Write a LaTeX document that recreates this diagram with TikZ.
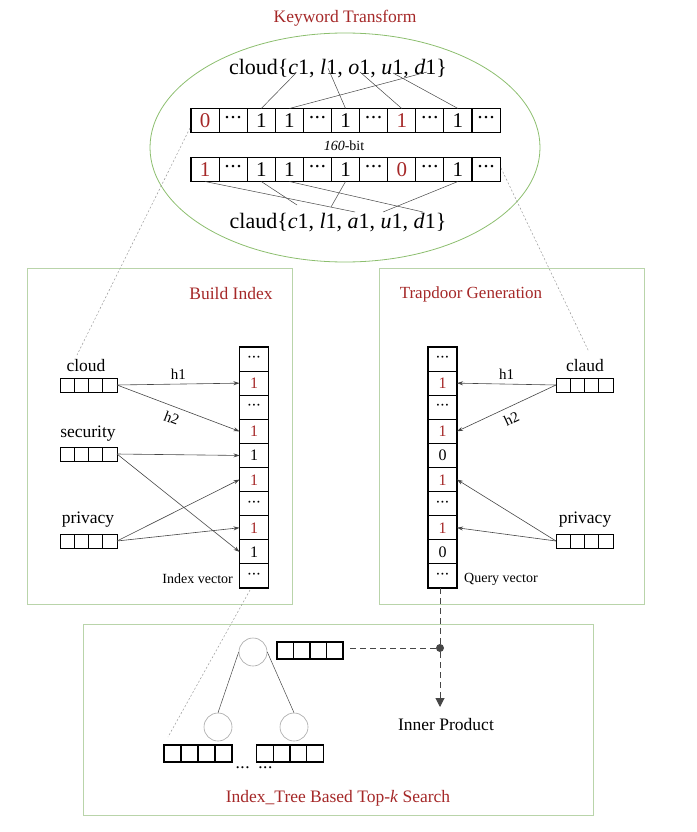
\documentclass[tikz,border=0pt]{standalone}
\usepackage{fontspec}
\setmainfont{Liberation Serif}
\usetikzlibrary{arrows.meta,calc,shapes.geometric}
\definecolor{tred}{RGB}{165,40,40}
\definecolor{egreen}{RGB}{140,190,110}
\definecolor{bgreen}{RGB}{185,212,170}
\definecolor{tgray}{RGB}{70,70,70}
\newcommand{\R}[1]{\textcolor{tred}{#1}}
\newcommand{\Dt}{\raisebox{0.12em}{\kern-0.05em\textperiodcentered\kern-0.05em\textperiodcentered\kern-0.05em\textperiodcentered\kern-0.05em}}
\begin{document}
\begin{tikzpicture}[x=1pt,y=-1pt,
  bitcell/.style={draw=black, line width=1.1pt, minimum width=28.1pt, minimum height=24pt, inner sep=0pt, outer sep=0pt, font=\fontsize{21}{21}\selectfont, text height=14pt, text depth=0pt},
  veccell/.style={draw=black, line width=1.1pt, minimum width=29pt, minimum height=24.1pt, inner sep=0pt, outer sep=0pt, font=\fontsize{16}{16}\selectfont, text height=11pt, text depth=0pt},
  wcell/.style={draw=black, line width=1pt, minimum width=14.25pt, minimum height=14pt, inner sep=0pt, outer sep=0pt},
  rcell/.style={draw=black, line width=1.1pt, minimum width=16.5pt, minimum height=17pt, inner sep=0pt, outer sep=0pt},
  lcell/.style={draw=black, line width=1.1pt, minimum width=17pt, minimum height=17pt, inner sep=0pt, outer sep=0pt},
  title/.style={text=tred, font=\fontsize{17.5}{17.5}\selectfont, inner sep=0pt},
  lab/.style={font=\fontsize{17.5}{17.5}\selectfont, inner sep=0pt},
  small/.style={font=\fontsize{14}{14}\selectfont, inner sep=0pt},
  hlab/.style={font=\fontsize{15}{15}\selectfont, inner sep=0pt},
  big/.style={font=\fontsize{22}{22}\selectfont, inner sep=0pt},
  panel/.style={draw=bgreen, line width=0.9pt, inner sep=0pt},
  harrow/.style={draw=tgray, line width=0.6pt, -{Stealth[length=6pt,width=4pt]}},
  thin/.style={draw=tgray, line width=0.5pt},
  guide/.style={draw=gray!80, line width=0.5pt, dash pattern=on 2pt off 2pt},
  tnode/.style={circle, draw=gray!70, line width=0.6pt, minimum size=28pt, inner sep=0pt},
  flow/.style={draw=tgray, line width=1pt, dash pattern=on 6pt off 4pt}
]
\useasboundingbox (0,0) rectangle (696,832);

% ---------- Keyword Transform ----------
\node[title] (kt) at (345,18) {Keyword Transform};
\node[ellipse, draw=egreen, line width=0.8pt, minimum width=390pt, minimum height=229pt, inner sep=0pt] (ell) at (345,147.5) {};

\node[big, anchor=base] (cloudw) at (338,75) {cloud\{\textit{c}1, \textit{l}1, \textit{o}1, \textit{u}1, \textit{d}1\}};
\node[big, anchor=base] (claudw) at (338,228) {claud\{\textit{c}1, \textit{l}1, \textit{a}1, \textit{u}1, \textit{d}1\}};

\foreach \v [count=\i from 0] in {{\R{0}},{\Dt},1,1,{\Dt},1,{\Dt},{\R{1}},{\Dt},1,{\Dt}}
  \node[bitcell] (t\i) at ({191+28.1*(\i+0.5)},120.5) {\v};
\foreach \v [count=\i from 0] in {{\R{1}},{\Dt},1,1,{\Dt},1,{\Dt},{\R{0}},{\Dt},1,{\Dt}}
  \node[bitcell] (b\i) at ({191+28.1*(\i+0.5)},169.5) {\v};
\node[small] (bits) at (344,146) {\textit{160}-bit};

% letter anchor points
\coordinate (cc) at (296,73);
\coordinate (cl) at (328,68);
\coordinate (co) at (360,72);
\coordinate (cu) at (393,73);
\coordinate (cd) at (427,72);
\coordinate (ac) at (297,205);
\coordinate (al) at (331,207);
\coordinate (aa) at (355,212);
\coordinate (au) at (383,212);
\coordinate (ad) at (423,212);

\draw[thin] (cc) -- (t2.north);
\draw[thin] (cl) -- (t5.north);
\draw[thin] (co) -- (t7.north);
\draw[thin] (cu) -- (t9.north);
\draw[thin] (cd) -- (t3.north);
\draw[thin] (b0.south) -- (aa);
\draw[thin] (b2.south) -- (ac);
\draw[thin] (b5.south) -- (al);
\draw[thin] (b3.south) -- (ad);
\draw[thin] (b9.south) -- (au);

% ---------- panels ----------
\node[panel, minimum width=265pt, minimum height=336pt] (bip) at (159.5,436) {};
\node[panel, minimum width=265pt, minimum height=336pt] (tgp) at (511.5,436) {};
\node[panel, minimum width=510pt, minimum height=191pt] (tsp) at (338,719.5) {};
\node[title] (bit) at (231,294) {Build Index};
\node[title, font=\fontsize{17}{17}\selectfont] (tgt) at (471,294) {Trapdoor Generation};
\node[title] (tst) at (338,798) {Index\_Tree Based Top-\textit{k} Search};

% ---------- Build Index ----------
\foreach \v [count=\i from 0] in {{\Dt},{\R{1}},{\Dt},{\R{1}},1,{\R{1}},{\Dt},{\R{1}},1,{\Dt}}
  \node[veccell] (iv\i) at (254,{347+24.1*(\i+0.5)}) {\v};
\node[small, anchor=east] (ivl) at (233,579) {Index vector};

\foreach \j in {0,...,3} {
  \node[wcell] (wc\j) at ({60+14.25*(\j+0.5)},385) {};
  \node[wcell] (ws\j) at ({60+14.25*(\j+0.5)},454) {};
  \node[wcell] (wp\j) at ({60+14.25*(\j+0.5)},541) {};
}
\node[lab] (lc) at (86,366) {cloud};
\node[lab] (ls) at (88,434) {security};
\node[lab] (lp) at (88,520) {privacy};

\draw[harrow] (wc3.east) -- node[hlab, above=4pt] (h1a) {h1} (iv1.west);
\draw[harrow] (wc3.east) -- node[hlab, sloped, below=6pt, pos=0.48] (h2a) {h2} (iv3.west);
\draw[harrow] (ws3.east) -- (iv4.west);
\draw[harrow] (ws3.east) -- (iv8.west);
\draw[harrow] (wp3.east) -- (iv5.west);
\draw[harrow] (wp3.east) -- (iv7.west);

% ---------- Trapdoor Generation ----------
\foreach \v [count=\i from 0] in {{\Dt},{\R{1}},{\Dt},{\R{1}},0,{\R{1}},{\Dt},{\R{1}},0,{\Dt}}
  \node[veccell] (qv\i) at (442.5,{347+24.1*(\i+0.5)}) {\v};
\node[small, anchor=west] (qvl) at (464,579) {Query vector};

\foreach \j in {0,...,3} {
  \node[wcell] (qc\j) at ({556+14.25*(\j+0.5)},385) {};
  \node[wcell] (qp\j) at ({556+14.25*(\j+0.5)},541) {};
}
\node[lab] (qlc) at (585,366) {claud};
\node[lab] (qlp) at (585,520) {privacy};

\draw[harrow] (qc0.west) -- node[hlab, above=4pt] (h1b) {h1} (qv1.east);
\draw[harrow] (qc0.west) -- node[hlab, sloped, below=6pt, pos=0.5] (h2b) {h2} (qv3.east);
\draw[harrow] (qp0.west) -- (qv5.east);
\draw[harrow] (qp0.west) -- (qv7.east);

% guide lines from keyword transform
\coordinate (g1s) at (190,128);
\coordinate (g1e) at (77,355);
\coordinate (g2s) at (501,168);
\coordinate (g2e) at (589,352);
\draw[guide] (g1s) -- (g1e);
\draw[guide] (g2s) -- (g2e);

% ---------- Top-k search ----------
\node[tnode] (root) at (253,652) {};
\node[tnode] (lch) at (218,727) {};
\node[tnode] (rch) at (294,727) {};
\draw[thin] (root.west) -- (lch.north);
\draw[thin] (root.east) -- (rch.north);

\foreach \j in {0,...,3} {
  \node[rcell] (rv\j) at ({277+16.5*(\j+0.5)},650.5) {};
  \node[lcell] (la\j) at ({164+17*(\j+0.5)},753.5) {};
  \node[lcell] (lb\j) at ({257+16.5*(\j+0.5)},753.5) {};
}
\node[lab] (dots) at (254,771) {\Dt\ \ \Dt};

\node[circle, fill=tgray, inner sep=0pt, minimum size=8pt] (jn) at (440,648) {};
\coordinate (rve) at (348,648);
\node[lab] (ip) at (446,725) {Inner Product};
\coordinate (ipt) at (440,707);
\draw[flow] (qv9.south -| jn) -- (jn);
\draw[flow] (jn) -- (rve);
\draw[flow, -{Triangle[length=9pt,width=9pt]}] (jn) -- (ipt);

\coordinate (g3s) at (250,590);
\coordinate (g3e) at (168,737);
\draw[guide] (g3s) -- (g3e);
\end{tikzpicture}
\end{document}
